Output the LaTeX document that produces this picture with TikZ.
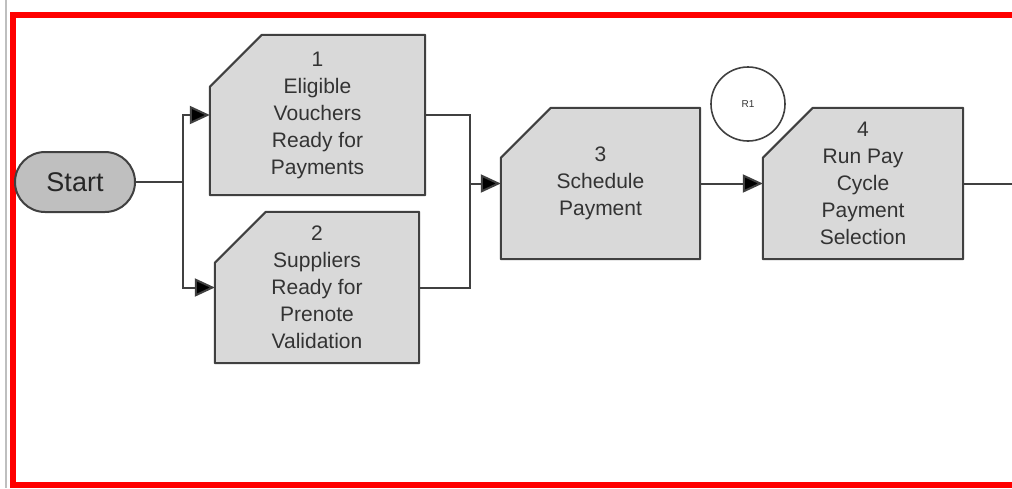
\documentclass[tikz,border=0pt]{standalone}
\usepackage{fontspec}
\setmainfont{Liberation Sans}
\usetikzlibrary{arrows.meta,backgrounds}

\definecolor{edgegrey}{HTML}{404040}
\definecolor{taskfill}{HTML}{D9D9D9}
\definecolor{startfill}{HTML}{BFBFBF}
\definecolor{labelgrey}{HTML}{333333}

\tikzset{
  task/.style={minimum width=#1, inner sep=0pt, align=center,
    text=labelgrey, font=\fontsize{21}{27}\selectfont},
  taskshape/.style={draw=edgegrey, fill=taskfill, line width=2pt, line join=round},
  startnode/.style={draw=edgegrey, fill=startfill, line width=2pt, rounded corners=30pt,
    minimum width=120pt, minimum height=60pt, inner sep=0pt,
    font=\fontsize{27}{30}\selectfont, text=black!85},
  refcircle/.style={circle, draw=edgegrey, line width=1.6pt, minimum size=74pt, inner sep=0pt,
    font=\fontsize{10}{12}\selectfont, text=labelgrey},
  flow/.style={draw=edgegrey, line width=2pt},
  arr/.style={flow, -{Triangle[length=20pt,width=18pt,fill=black]}},
}

\newcommand{\chamferbox}[2]{%
  \draw[taskshape] ([yshift=-#2]#1.north west) -- ([xshift=#2]#1.north west)
    -- (#1.north east) -- (#1.south east) -- (#1.south west) -- cycle;}

\begin{document}
\begin{tikzpicture}[x=1pt,y=-1pt]
  \useasboundingbox (0,0) rectangle (1012,488);

  % frame
  \draw[black!25, line width=1.5pt] (6,0) -- (6,488);
  \draw[red, line width=6pt] (1030,14.5) -- (13,14.5) -- (13,484.5) -- (1030,484.5);

  % nodes
  \node[startnode] (start) at (75,182) {Start};
  \node[task=215pt, minimum height=160pt] (b1) at (317.5,115)
    {1\\Eligible\\Vouchers\\Ready for\\Payments};
  \node[task=204pt, minimum height=151pt] (b2) at (317,287.5)
    {2\\Suppliers\\Ready for\\Prenote\\Validation};
  \node[task=199pt, minimum height=151pt] (b3) at (600.5,183.5)
    {3\\Schedule\\Payment};
  \node[task=200pt, minimum height=151pt] (b4) at (863,183.5)
    {4\\Run Pay\\Cycle\\Payment\\Selection};
  \node[refcircle] (r1) at (748,104) {R1};

  \begin{pgfonlayer}{background}
    \chamferbox{b1}{52pt}
    \chamferbox{b2}{51pt}
    \chamferbox{b3}{50pt}
    \chamferbox{b4}{50pt}
  \end{pgfonlayer}

  % connectors
  \coordinate (split) at (183,182);
  \coordinate (merge) at (470,183.5);
  \coordinate (out) at (1020,183.5);
  \draw[flow] (start.east) -- (split);
  \draw[arr] (split) |- (b1.west);
  \draw[arr] (split) |- (b2.west);
  \draw[flow] (b1.east) -| (merge);
  \draw[flow] (b2.east) -| (merge);
  \draw[arr] (merge) -- (b3.west);
  \draw[arr] (b3.east) -- (b4.west);
  \draw[flow] (b4.east) -- (out);
\end{tikzpicture}
\end{document}
